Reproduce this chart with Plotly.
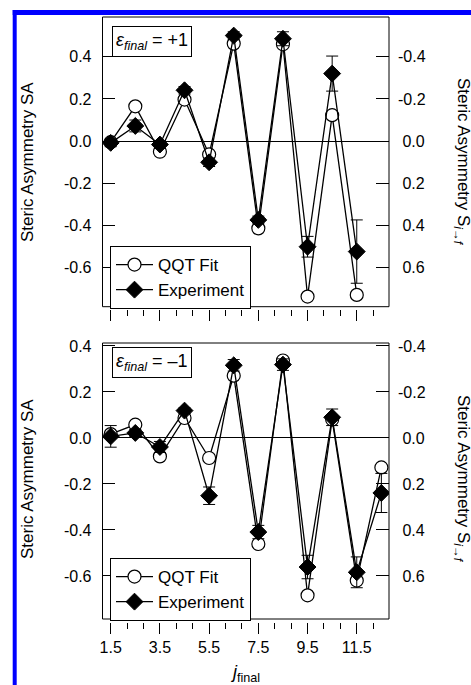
import plotly.graph_objects as go

W, H = 471, 685

# ---------------- data ----------------
j_top = [1.5, 2.5, 3.5, 4.5, 5.5, 6.5, 7.5, 8.5, 9.5, 10.5, 11.5]
qqt_top = [-0.005, 0.165, -0.050, 0.197, -0.063, 0.462, -0.413, 0.459, -0.736, 0.123, -0.728]
exp_top = [-0.008, 0.072, -0.016, 0.241, -0.100, 0.500, -0.373, 0.485, -0.500, 0.320, -0.523]
err_top = [0.018, 0.028, 0.018, 0.018, 0.020, 0.018, 0.018, 0.033, 0.049, 0.083, 0.150]

j_bot = [1.5, 2.5, 3.5, 4.5, 5.5, 6.5, 7.5, 8.5, 9.5, 10.5, 11.5, 12.5]
qqt_bot = [0.017, 0.058, -0.080, 0.087, -0.087, 0.271, -0.461, 0.337, -0.684, 0.080, -0.620, -0.128]
exp_bot = [0.007, 0.022, -0.039, 0.119, -0.251, 0.316, -0.409, 0.319, -0.561, 0.090, -0.584, -0.239]
err_bot = [0.047, 0.015, 0.024, 0.012, 0.038, 0.025, 0.029, 0.025, 0.051, 0.036, 0.067, 0.085]

x_tickvals = [1.5, 3.5, 5.5, 7.5, 9.5, 11.5]
x_ticktext = ["1.5", "3.5", "5.5", "7.5", "9.5", "11.5"]
yl_tickvals = [0.4, 0.2, 0.0, -0.2, -0.4, -0.6]
yl_ticktext = ["0.4", "0.2", "0.0", "-0.2", "-0.4", "-0.6"]
yr_tickvals = [-0.4, -0.2, 0.0, 0.2, 0.4, 0.6]
yr_ticktext = ["-0.4", "-0.2", "\u00a00.0", "\u00a00.2", "\u00a00.4", "\u00a00.6"]

FONT = "Liberation Sans, Arial, Helvetica, sans-serif"

def fx(p):
    return p / W

def fy(p):
    return 1 - p / H

xdom = [fx(102.5), fx(389)]
dom_top = [fy(306.7), fy(17)]
dom_bot = [fy(619), fy(343)]
xrange_ = [1.167, 12.81]
yr_top = [-0.784, 0.588]
yr_bot = [-0.787, 0.413]

fig = go.Figure()

def add_panel(xa, ya, j, qqt, exp, err, legend, show):
    fig.add_trace(go.Scatter(
        x=j, y=qqt, xaxis=xa, yaxis=ya, mode="lines+markers", name="QQT Fit",
        line=dict(color="black", width=1.3),
        marker=dict(symbol="circle", size=13, color="white", line=dict(color="black", width=1.2)),
        legend=legend, showlegend=show))
    fig.add_trace(go.Scatter(
        x=j, y=exp, xaxis=xa, yaxis=ya, mode="lines+markers", name="Experiment",
        line=dict(color="black", width=1.3),
        marker=dict(symbol="diamond", size=13, color="black", line=dict(color="black", width=1)),
        error_y=dict(type="data", array=err, visible=True, color="black", thickness=1, width=6),
        legend=legend, showlegend=show))

add_panel("x", "y", j_top, qqt_top, exp_top, err_top, "legend", True)
add_panel("x2", "y2", j_bot, qqt_bot, exp_bot, err_bot, "legend2", True)

# empty traces to bind the right-hand axes
fig.add_trace(go.Scatter(x=[], y=[], xaxis="x", yaxis="y3", showlegend=False, hoverinfo="skip"))
fig.add_trace(go.Scatter(x=[], y=[], xaxis="x2", yaxis="y4", showlegend=False, hoverinfo="skip"))

tickfont = dict(family=FONT, size=16, color="black")

def xaxis_cfg(dom_bottom, labels):
    return dict(
        domain=xdom, range=xrange_, anchor="free", position=dom_bottom - 2.5 / H,
        showline=False, showgrid=False, zeroline=False,
        ticks="outside", ticklen=11, tickwidth=1, tickcolor="black",
        tickvals=x_tickvals, ticktext=x_ticktext, showticklabels=labels,
        tickfont=tickfont,
        minor=dict(tickmode="linear", tick0=1.5, dtick=2 / 3, ticks="outside",
                   ticklen=6, tickwidth=1, tickcolor="black", showgrid=False),
    )

def yleft_cfg(dom, rng, xa):
    return dict(
        domain=dom, range=rng, anchor=xa, showgrid=False,
        showline=False, zeroline=True, zerolinecolor="black", zerolinewidth=1,
        ticks="inside", ticklen=12, tickwidth=1, tickcolor="black",
        tickvals=yl_tickvals, ticktext=yl_ticktext, tickfont=tickfont,
        ticklabelstandoff=10,
    )

def yright_cfg(overl, rng, xa):
    return dict(
        overlaying=overl, side="right", anchor=xa, range=[-rng[0], -rng[1]],
        showgrid=False, showline=False, zeroline=False,
        ticks="inside", ticklen=13, tickwidth=1, tickcolor="black",
        tickvals=yr_tickvals, ticktext=yr_ticktext, tickfont=tickfont,
        ticklabelstandoff=8,
    )

legend_common = dict(xanchor="left", yanchor="top",
                     bgcolor="white", bordercolor="black", borderwidth=1,
                     font=dict(family=FONT, size=17, color="black"),
                     itemwidth=37, tracegroupgap=0)

fig.update_layout(
    width=W, height=H,
    margin=dict(l=0, r=0, t=0, b=0, autoexpand=False),
    paper_bgcolor="white", plot_bgcolor="white",
    font=dict(family=FONT, color="black"),
    xaxis=xaxis_cfg(dom_top[0], False),
    xaxis2=xaxis_cfg(dom_bot[0], True),
    yaxis=yleft_cfg(dom_top, yr_top, "x"),
    yaxis2=yleft_cfg(dom_bot, yr_bot, "x2"),
    yaxis3=yright_cfg("y", yr_top, "x"),
    yaxis4=yright_cfg("y2", yr_bot, "x2"),
    legend=dict(x=fx(110), y=fy(246), **legend_common),
    legend2=dict(x=fx(110), y=fy(558), **legend_common),
    showlegend=True,
)

shapes = []
# panel frames
for xa, ya in (("x", "y"), ("x2", "y2")):
    shapes.append(dict(type="rect", xref=f"{xa} domain", yref=f"{ya} domain",
                       x0=0, x1=1, y0=0, y1=1, line=dict(color="black", width=1),
                       fillcolor="rgba(0,0,0,0)", layer="above"))
# blue border
shapes.append(dict(type="line", xref="paper", yref="paper",
                   x0=fx(12.7), x1=1.02, y0=fy(12.5), y1=fy(12.5),
                   line=dict(color="#0000ff", width=5)))
shapes.append(dict(type="line", xref="paper", yref="paper",
                   x0=fx(14.7), x1=fx(14.7), y0=-0.02, y1=fy(10),
                   line=dict(color="#0000ff", width=4)))
fig.update_layout(shapes=shapes)

title_font = dict(family=FONT, size=17, color="black")
ann = []
for cy in (162, 479):
    ann.append(dict(text="Steric Asymmetry SA", xref="paper", yref="paper",
                    x=fx(27), y=fy(cy), xanchor="center", yanchor="middle",
                    textangle=-90, showarrow=False, font=title_font))
for cy in (162, 479):
    ann.append(dict(text="Steric Asymmetry S<sub><i>i\u2192f</i></sub>", xref="paper", yref="paper",
                    x=fx(462), y=fy(cy), xanchor="center", yanchor="middle",
                    textangle=90, showarrow=False, font=title_font))
ann.append(dict(text="<i>j</i><sub>final</sub>", xref="paper", yref="paper",
                x=fx(245), y=fy(673), xanchor="center", yanchor="middle",
                showarrow=False, font=dict(family=FONT, size=18, color="black")))
for label, ytop in (("<i>\u03b5<sub>final</sub></i> = +1", 25.7), ("<i>\u03b5<sub>final</sub></i> = \u20131", 346.7)):
    ann.append(dict(text=label, xref="paper", yref="paper",
                    x=fx(112), y=fy(ytop), xanchor="left", yanchor="top",
                    showarrow=False, bgcolor="white", bordercolor="black",
                    borderwidth=1, borderpad=3,
                    font=dict(family=FONT, size=18, color="black")))
fig.update_layout(annotations=ann)

fig.write_html("out.html")
